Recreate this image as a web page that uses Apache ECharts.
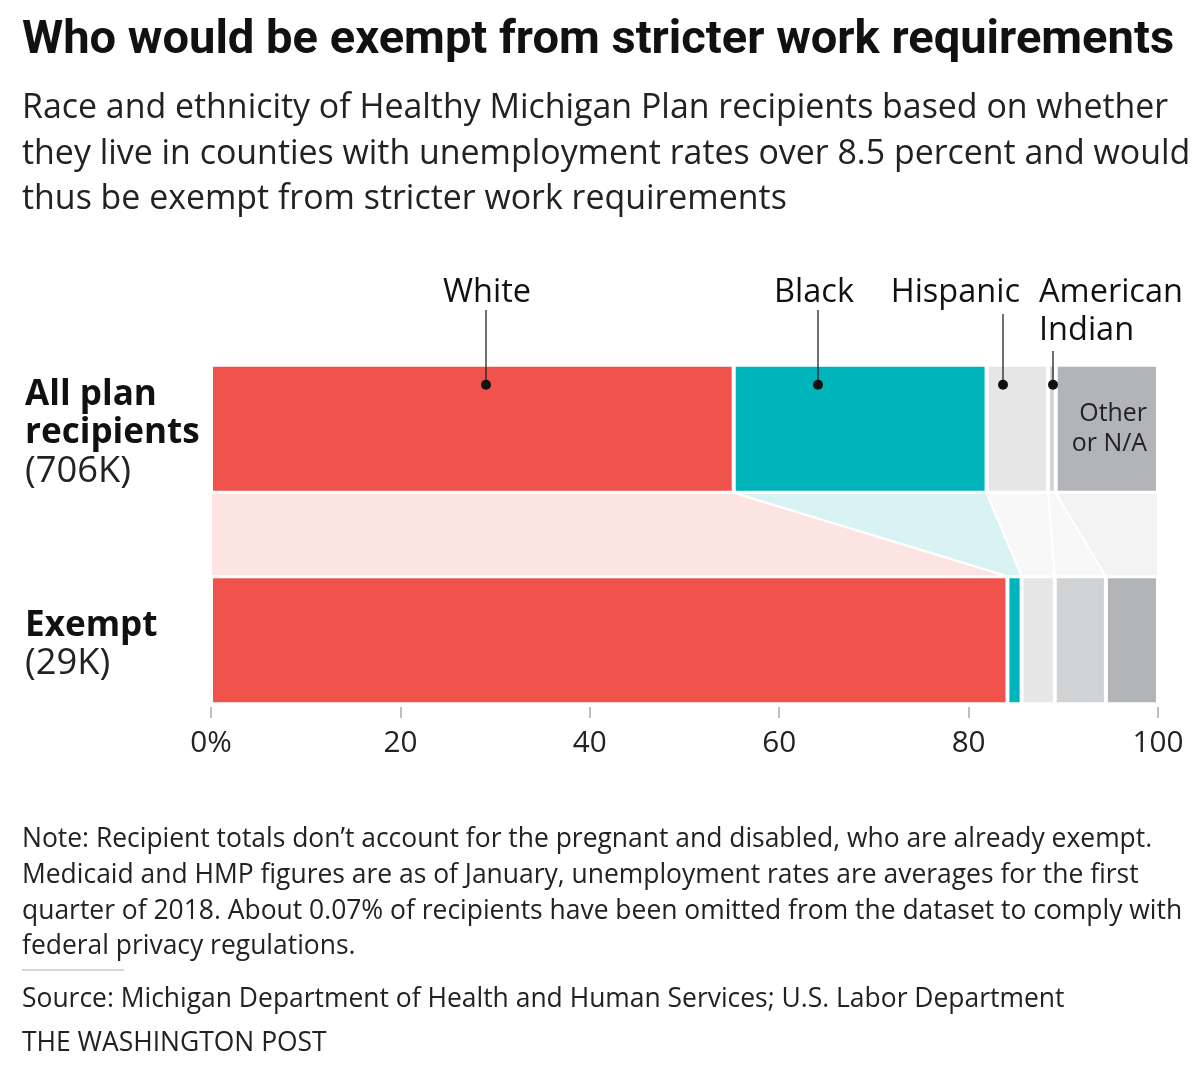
<!DOCTYPE html>
<html>
<head>
<meta charset="utf-8">
<script src="https://cdn.jsdelivr.net/npm/echarts@6/dist/echarts.min.js"></script>
<style>
  html, body { margin: 0; padding: 0; background: #fff; }
  #chart { width: 1200px; height: 1075px; }
</style>
</head>
<body>
<div id="chart"></div>
<script>
// ---------------- data ----------------
const categories = ['All plan recipients', 'Exempt'];
const categoryLines = [['All plan', 'recipients'], ['Exempt']];
const categoryTotals = ['706K', '29K'];
const groups = ['White', 'Black', 'Hispanic', 'American Indian', 'Other or N/A'];
const allPlanShares = [55.2, 26.7, 6.5, 0.8, 10.8];
const exemptShares = [84.1, 1.5, 3.5, 5.4, 5.5];
const xTicks = [0, 20, 40, 60, 80, 100];
const annotationGroups = ['White', 'Black', 'Hispanic', 'American\nIndian'];
const annotationAnchors = [29.0, 64.1, 83.6, 88.9];

const titleText = 'Who would be exempt from stricter work requirements';
const subtitleLines = [
  'Race and ethnicity of Healthy Michigan Plan recipients based on whether',
  'they live in counties with unemployment rates over 8.5 percent and would',
  'thus be exempt from stricter work requirements'
];
const noteLines = [
  'Note: Recipient totals don\u2019t account for the pregnant and disabled, who are already exempt.',
  'Medicaid and HMP figures are as of January, unemployment rates are averages for the first',
  'quarter of 2018. About 0.07% of recipients have been omitted from the dataset to comply with',
  'federal privacy regulations.'
];
const sourceText = 'Source: Michigan Department of Health and Human Services; U.S. Labor Department';
const creditText = 'THE WASHINGTON POST';

// ---------------- style ----------------
const TITLE_FONT = 'Roboto, "Liberation Sans", sans-serif';
const FONT = '"Open Sans", "Noto Sans", Roboto, sans-serif';
const barColors = ['#ef534b', '#00b4bc', '#e6e6e6', '#d1d2d4', '#b3b4b7'];
const bandColors = ['#fce4e3', '#d9f3f4', '#f8f8f8', '#f8f8f8', '#f3f3f3'];
const BAR_H = 128;

// font size that makes a text line span a given pixel width
const mctx = document.createElement('canvas').getContext('2d');
function fitSize(text, weight, family, width) {
  mctx.font = weight + ' 100px ' + family;
  return Math.round(1000 * width / mctx.measureText(text).width) / 10;
}
const titleSize = fitSize(titleText, 'bold', TITLE_FONT, 1153);
const subSize = fitSize(subtitleLines[0], 'normal', FONT, 1145);
const noteSize = (fitSize(noteLines[0], 'normal', FONT, 1141) + fitSize(noteLines[2], 'normal', FONT, 1150)) / 2;
const annoSize = (fitSize('White', 'normal', FONT, 88) + fitSize('Hispanic', 'normal', FONT, 132) + fitSize('American', 'normal', FONT, 141)) / 3;
const catBoldSize = fitSize('recipients', 'bold', FONT, 175);
const catNormSize = fitSize('(706K)', 'normal', FONT, 106);
const tickSize = fitSize('100', 'normal', FONT, 51);
const otherSize = (fitSize('Other', 'normal', FONT, 67) + fitSize('or N/A', 'normal', FONT, 76)) / 2;

// cumulative edges
function edges(arr) {
  const out = []; let acc = 0;
  arr.forEach(v => { out.push([acc, acc + v]); acc += v; });
  return out;
}
const topEdges = edges(allPlanShares);
const botEdges = edges(exemptShares);
const connectorData = groups.map((g, i) => [topEdges[i][0], topEdges[i][1], botEdges[i][0], botEdges[i][1], i]);

const chart = echarts.init(document.getElementById('chart'), null, { renderer: 'canvas' });

const barSeries = groups.map((g, i) => ({
  name: g,
  type: 'bar',
  stack: 'share',
  xAxisIndex: 0,
  yAxisIndex: 0,
  barWidth: BAR_H,
  z: 3,
  itemStyle: { color: barColors[i], borderColor: '#fff', borderWidth: 2 },
  emphasis: { disabled: true },
  data: [allPlanShares[i], exemptShares[i]].map((v, ci) => {
    const item = { value: v };
    if (i === groups.length - 1 && ci === 0) {
      item.label = {
        show: true,
        position: 'insideRight',
        distance: 11,
        formatter: 'Other\nor N/A',
        align: 'right',
        color: '#222',
        fontFamily: FONT,
        fontSize: otherSize,
        lineHeight: 30
      };
    }
    return item;
  })
}));

const connectorSeries = {
  type: 'custom',
  xAxisIndex: 0,
  yAxisIndex: 0,
  z: 1,
  silent: true,
  clip: false,
  encode: { x: [0, 1, 2, 3] },
  data: connectorData,
  renderItem: function (params, api) {
    const gi = api.value(4);
    const yTop = api.coord([0, 0])[1] + BAR_H / 2;
    const yBot = api.coord([0, 1])[1] - BAR_H / 2;
    const x0 = api.coord([api.value(0), 0])[0];
    const x1 = api.coord([api.value(1), 0])[0];
    const x2 = api.coord([api.value(2), 1])[0];
    const x3 = api.coord([api.value(3), 1])[0];
    return {
      type: 'polygon',
      shape: { points: [[x0, yTop], [x1, yTop], [x3, yBot], [x2, yBot]] },
      style: { fill: bandColors[gi], stroke: '#fff', lineWidth: 2 }
    };
  }
};

// label layout relative to the dot
const annoLayout = [
  { dx: 1, align: 'center', lineTop: 310 },
  { dx: -4, align: 'center', lineTop: 310 },
  { dx: 17, align: 'right', lineTop: 314 },
  { dx: -14, align: 'left', lineTop: 351 }
];

const annotationSeries = {
  type: 'custom',
  xAxisIndex: 0,
  yAxisIndex: 0,
  z: 5,
  silent: true,
  clip: false,
  encode: { x: 0 },
  data: annotationAnchors.map((v, i) => [v, i]),
  renderItem: function (params, api) {
    const i = api.value(1);
    const p = api.coord([api.value(0), 0]);
    const x = Math.round(p[0]);
    const dotY = p[1] - BAR_H / 2 + 20;
    const lay = annoLayout[i];
    return {
      type: 'group',
      children: [
        { type: 'line', shape: { x1: x, y1: lay.lineTop, x2: x, y2: dotY }, style: { stroke: '#222', lineWidth: 1.3 } },
        { type: 'circle', shape: { cx: x, cy: dotY, r: 5 }, style: { fill: '#111' } },
        { type: 'text', x: x + lay.dx, y: 292 - 18,
          style: { text: annotationGroups[i], align: lay.align, verticalAlign: 'top', fill: '#111',
                   font: annoSize + 'px ' + FONT, lineHeight: 38 } }
      ]
    };
  }
};

const option = {
  animation: false,
  backgroundColor: '#fff',
  textStyle: { fontFamily: FONT },
  title: [
    { text: titleText, left: 22, top: 16, padding: 0,
      textStyle: { fontFamily: TITLE_FONT, fontSize: titleSize, fontWeight: 'bold', color: '#111', lineHeight: 50 } },
    { text: subtitleLines.join('\n'), left: 22, top: 86, padding: 0,
      textStyle: { fontFamily: FONT, fontSize: subSize, fontWeight: 'normal', color: '#222', lineHeight: 45.5 } },
    { text: noteLines.join('\n'), left: 22, top: 822, padding: 0,
      textStyle: { fontFamily: FONT, fontSize: noteSize, fontWeight: 'normal', color: '#222', lineHeight: 35.7 } },
    { text: sourceText, left: 22, top: 981, padding: 0,
      textStyle: { fontFamily: FONT, fontSize: noteSize, fontWeight: 'normal', color: '#222', lineHeight: 36 } },
    { text: creditText, left: 22, top: 1025, padding: 0,
      textStyle: { fontFamily: FONT, fontSize: noteSize, fontWeight: 'normal', color: '#222', lineHeight: 36 } }
  ],
  graphic: [
    { type: 'line', shape: { x1: 22, y1: 970, x2: 124, y2: 970 }, style: { stroke: '#c8c8c8', lineWidth: 1.5 } }
  ],
  grid: [
    { left: 211, right: 42, top: 323, height: 423 },
    { left: 211, right: 42, top: 706, height: 1 }
  ],
  xAxis: [
    { gridIndex: 0, type: 'value', min: 0, max: 100, show: false },
    { gridIndex: 1, type: 'value', min: 0, max: 100, interval: 20,
      axisLine: { show: false },
      axisTick: { show: true, length: 11, lineStyle: { color: '#aaa', width: 1.5 } },
      splitLine: { show: false },
      axisLabel: {
        margin: 22, fontFamily: FONT, fontSize: tickSize, color: '#222',
        formatter: function (v) { return v === xTicks[0] ? v + '%' : String(v); }
      }
    }
  ],
  yAxis: [
    { gridIndex: 0, type: 'category', data: categories, inverse: true,
      axisLine: { show: false }, axisTick: { show: false }, splitLine: { show: false },
      axisLabel: {
        align: 'left', margin: 186, fontFamily: FONT,
        formatter: function (v, idx) {
          const lines = categoryLines[idx].map(s => '{b|' + s + '}');
          lines.push('{n|(' + categoryTotals[idx] + ')}');
          return lines.join('\n');
        },
        padding: [9, 0, 0, 0],
        rich: {
          b: { fontFamily: FONT, fontSize: catBoldSize, fontWeight: 'bold', color: '#111', lineHeight: 38 },
          n: { fontFamily: FONT, fontSize: catNormSize, fontWeight: 'normal', color: '#222', lineHeight: 38 }
        }
      }
    },
    { gridIndex: 1, type: 'value', show: false }
  ],
  series: [connectorSeries].concat(barSeries, [annotationSeries])
};

chart.setOption(option);
</script>
</body>
</html>
